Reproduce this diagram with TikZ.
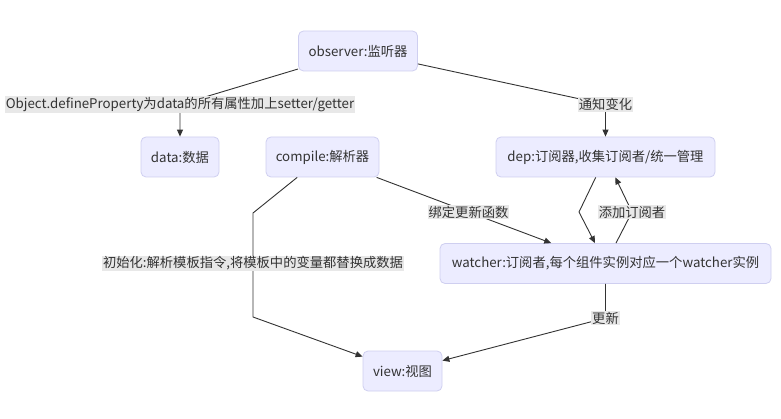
\documentclass[tikz,border=0pt]{standalone}
\usepackage{fontspec}
\setmainfont{Noto Sans CJK SC}
\usetikzlibrary{arrows.meta}
\definecolor{boxfill}{HTML}{ECECFF}
\definecolor{boxline}{HTML}{CFCFF0}
\definecolor{edgec}{HTML}{333333}
\definecolor{textc}{HTML}{333333}
\definecolor{lblbg}{HTML}{E8E8E8}
\begin{document}
\begin{tikzpicture}[x=1pt,y=-1pt,
  font=\fontsize{13.3}{16}\selectfont,
  box/.style={draw=boxline, fill=boxfill, rounded corners=5pt, minimum height=40pt, inner xsep=3pt, text=textc, line width=0.8pt},
  lbl/.style={fill=lblbg, inner xsep=1pt, inner ysep=1pt, text=textc},
  conn/.style={draw=edgec, line width=0.9pt},
  arr/.style={conn, -{Triangle[length=7pt,width=6pt]}}]
\useasboundingbox (0,0) rectangle (781,419);
\fill[white] (0,0) rectangle (781,419);

\node[box, minimum width=119pt] (obs) at (358,51) {observer:监听器};
\node[box, minimum width=78pt] (data) at (180,157) {data:数据};
\node[box, minimum width=113pt] (comp) at (322.5,157) {compile:解析器};
\node[box, minimum width=219pt] (dep) at (605.5,157) {dep:订阅器,收集订阅者/统一管理};
\node[box, minimum width=331pt] (wat) at (605.5,263.5) {watcher:订阅者,每个组件实例对应一个watcher实例};
\node[box, minimum width=79pt] (view) at (402.5,371) {view:视图};

\coordinate (k1) at (180,104.5);
\coordinate (k2) at (605.5,104.5);
\coordinate (k3) at (468.5,212);
\coordinate (k4a) at (253,213);
\coordinate (k4b) at (253,317);
\coordinate (k4c) at (253,263.5);
\coordinate (k5) at (579,212);
\coordinate (k6) at (632,212);
\coordinate (k7) at (605.5,318);

\draw[arr] (obs) -- (k1) -- (data);
\draw[arr] (obs) -- (k2) -- (dep);
\draw[arr] (comp) -- (k3) -- (wat);
\draw[arr] (comp) -- (k4a) -- (k4b) -- (view);
\draw[arr] (dep) -- (k5) -- (wat);
\draw[arr] (wat) -- (k6) -- (dep);
\draw[arr] (wat) -- (k7) -- (view);

\node[lbl] (l1) at (k1) {Object.defineProperty为data的所有属性加上setter/getter};
\node[lbl] (l2) at (k2) {通知变化};
\node[lbl] (l3) at (k3) {绑定更新函数};
\node[lbl] (l4) at (k4c) {初始化:解析模板指令,将模板中的变量都替换成数据};
\node[lbl] (l6) at (k6) {添加订阅者};
\node[lbl] (l7) at (k7) {更新};
\end{tikzpicture}
\end{document}
